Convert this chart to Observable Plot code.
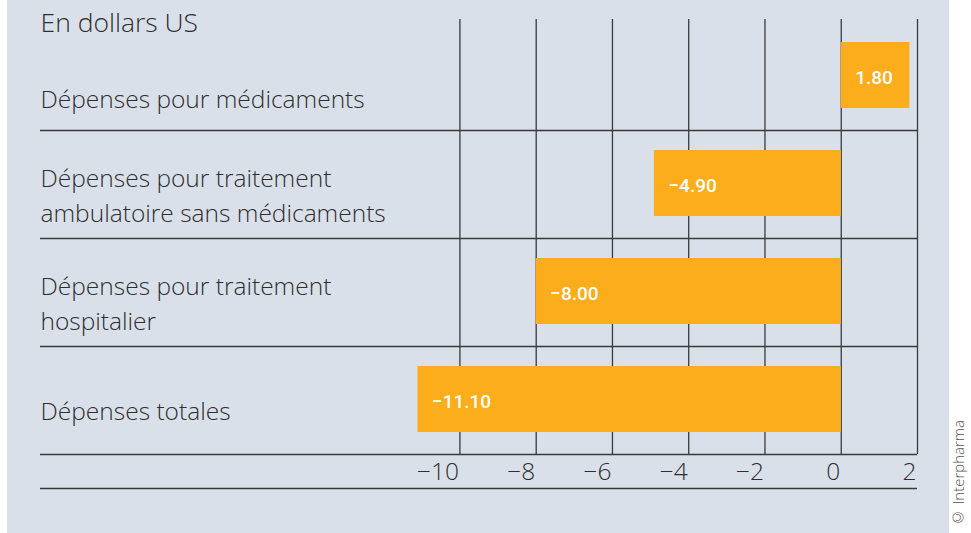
<!DOCTYPE html>
<html>
<head>
<meta charset="utf-8">
<script src="https://cdn.jsdelivr.net/npm/d3@7"></script>
<script src="https://cdn.jsdelivr.net/npm/@observablehq/plot@0.6"></script>
<style>
  html, body { margin: 0; padding: 0; background: #ffffff; }
  #wrap { position: relative; width: 971px; height: 533px; overflow: hidden; }
  #panel { position: absolute; left: 7px; top: 0; width: 942px; height: 533px; background: #dae0ea; }
  #credit {
    position: absolute; right: 3px; bottom: 5px;
    writing-mode: vertical-rl; transform: rotate(180deg);
    font-family: "Open Sans", "Liberation Sans", sans-serif; font-weight: 300;
    font-size: 15px; color: #555;
  }
</style>
</head>
<body>
<div id="wrap">
  <div id="panel"></div>
  <div id="credit">© Interpharma</div>
</div>
<script>
const categories = [
  "Dépenses pour médicaments",
  "Dépenses pour traitement\nambulatoire sans médicaments",
  "Dépenses pour traitement\nhospitalier",
  "Dépenses totales"
];
const values = [1.80, -4.90, -8.00, -11.10];
const valueLabels = ["1.80", "−4.90", "−8.00", "−11.10"];
const xTicks = [-10, -8, -6, -4, -2, 0, 2];
const unitLabel = "En dollars US";

const data = categories.map((c, i) => ({category: c, value: values[i], label: valueLabels[i], idx: i}));

const font = "'Open Sans', 'Liberation Sans', sans-serif";
const valueFont = "Roboto, 'Open Sans', sans-serif";
const ink = "#2e2e2e";
const lineColor = "#3a3a3a";

const chart = Plot.plot({
  width: 942,
  height: 533,
  marginLeft: 33,
  marginRight: 32,
  marginTop: 22,
  marginBottom: 79,
  x: {domain: [-21, 2], ticks: xTicks},
  y: {domain: categories, padding: 0, axis: null},
  style: {background: "transparent", fontFamily: font, color: ink, overflow: "visible"},
  marks: [
    Plot.ruleX(xTicks, {stroke: lineColor, strokeWidth: 1.3, insetTop: -3}),
    Plot.ruleY(categories, {y: d => d, dy: 54, stroke: lineColor, strokeWidth: 1.3}),
    Plot.ruleY([categories[categories.length - 1]], {y: d => d, dy: 88, stroke: lineColor, strokeWidth: 1.3}),
    Plot.barX(data, {x1: 0, x2: "value", y: "category", fill: "#fbad1b", insetTop: 20, insetBottom: 22}),
    Plot.text(data, {x: d => Math.min(0, d.value), y: "category", text: "label", textAnchor: "start", dx: 14, dy: 1,
      fill: "#ffffff", fontSize: 19, fontWeight: 500, fontFamily: valueFont}),
    Plot.text(data.filter(d => d.idx === 0), {y: "category", text: "category", frameAnchor: "left", textAnchor: "start",
      dy: 21, fontSize: 24.5, fontWeight: 300, lineHeight: 1.4, fill: ink}),
    Plot.text(data.filter(d => d.idx > 0), {y: "category", text: "category", frameAnchor: "left", textAnchor: "start",
      dy: 9, fontSize: 24.5, fontWeight: 300, lineHeight: 1.4, fill: ink}),
    Plot.text([unitLabel], {frameAnchor: "top-left", text: d => d, textAnchor: "start", lineAnchor: "middle",
      dy: 1, fontSize: 26.5, fontWeight: 300, fill: ink}),
    Plot.axisX(xTicks, {anchor: "bottom", tickSize: 0, tickPadding: 8, fontSize: 24.5, fontWeight: 300,
      textAnchor: "end", dx: -1, label: null, fill: ink,
      tickFormat: d => d < 0 ? "−" + (-d) : String(d)})
  ]
});
document.getElementById("panel").appendChild(chart);
</script>
</body>
</html>
